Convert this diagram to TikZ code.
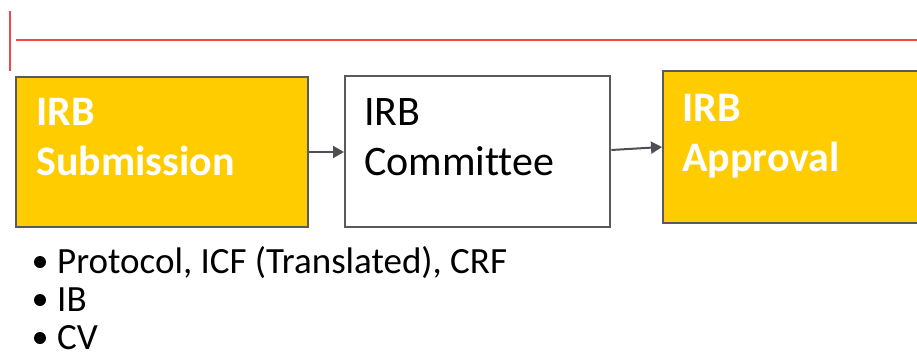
\documentclass[tikz,border=0pt]{standalone}
\usepackage{fontspec}
\setmainfont{Carlito}[Ligatures=NoCommon]
\usetikzlibrary{arrows.meta}
\definecolor{irbyellow}{HTML}{FFCC00}
\definecolor{boxgray}{HTML}{5A5A5E}
\definecolor{redline}{HTML}{F0474A}
\definecolor{arrowgray}{HTML}{4D4F55}
\tikzset{
  x=1pt, y=-1pt,
  boxshape/.style={draw=boxgray, line width=2.4pt},
  yellowbox/.style={boxshape, fill=irbyellow},
  whitebox/.style={boxshape, fill=white},
  titlewhite/.style={anchor=base west, inner sep=0pt, font=\fontsize{42}{42}\selectfont\bfseries, text=white},
  titleblack/.style={anchor=base west, inner sep=0pt, font=\fontsize{42}{42}\selectfont, text=black},
  bullettext/.style={anchor=base west, inner sep=0pt, font=\fontsize{37}{37}\selectfont, text=black},
  bulletdot/.style={circle, fill=black, inner sep=0pt, minimum size=12pt},
  flowarrow/.style={draw=arrowgray, line width=2pt, -{Triangle[length=11pt,width=12pt]}},
}
\begin{document}
\begin{tikzpicture}
\useasboundingbox (0,0) rectangle (917,353);
% red marks
\draw[redline, line width=1.4pt] (10,11) -- (10,71);
\draw[redline, line width=1.2pt] (16,40) -- (917,40);
% boxes
\node[yellowbox, anchor=north west, minimum width=292pt, minimum height=150pt, inner sep=0pt] (sub) at (15,76) {};
\node[whitebox, anchor=north west, minimum width=265pt, minimum height=151pt, inner sep=0pt] (com) at (344,75) {};
\node[yellowbox, anchor=north west, minimum width=270pt, minimum height=152pt, inner sep=0pt] (app) at (662,70) {};
% titles
\node[titlewhite] (subA) at (36,125) {IRB};
\node[titlewhite] (subB) at (36,175) {Submission};
\node[titleblack] (comA) at (364,125) {IRB};
\node[titleblack] (comB) at (364,175) {Committee};
\node[titlewhite] (appA) at (682,121) {IRB};
\node[titlewhite] (appB) at (682,171) {Approval};
% arrows
\draw[flowarrow] (sub.east |- 0,152) -- (com.west |- 0,152);
\draw[flowarrow] (com.east |- 0,150) -- (app.west |- 0,147);
% bullets
\node[bulletdot] (d1) at (40,262) {};
\node[bulletdot] (d2) at (40,300) {};
\node[bulletdot] (d3) at (40,338) {};
\node[bullettext] (b1) at (57,273) {Protocol, ICF (Translated), CRF};
\node[bullettext] (b2) at (57,311) {IB};
\node[bullettext] (b3) at (57,349) {CV};
\end{tikzpicture}
\end{document}
